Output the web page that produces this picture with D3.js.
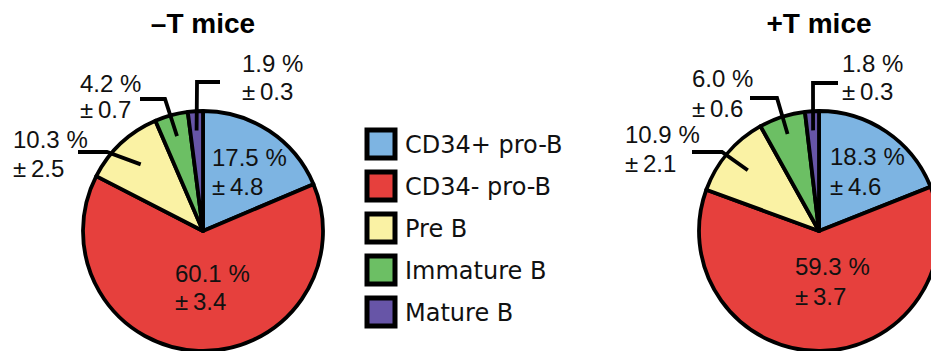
<!DOCTYPE html>
<html>
<head>
<meta charset="utf-8">
<script src="https://cdn.jsdelivr.net/npm/d3@7"></script>
<style>
  body { margin: 0; background: #fff; }
  svg { display: block; }
</style>
</head>
<body>
<div id="chart"></div>
<script>
// data
const categories = ["CD34+ pro-B", "CD34- pro-B", "Pre B", "Immature B", "Mature B"];
const colors = ["#7db4e2", "#e6403d", "#faf2a4", "#6cbf64", "#6755a7"];
const minusTValues = [17.5, 60.1, 10.3, 4.2, 1.9];
const minusTErrors = [4.8, 3.4, 2.5, 0.7, 0.3];
const plusTValues = [18.3, 59.3, 10.9, 6.0, 1.8];
const plusTErrors = [4.6, 3.7, 2.1, 0.6, 0.3];
const titles = ["\u2013T mice", "+T mice"];

const width = 931, height = 351;
const radius = 120;

const svg = d3.select("#chart").append("svg")
    .attr("width", width)
    .attr("height", height);

// label layout per pie (offsets from pie centre)
// inside: [x, y1, y2] ; outside: tip radius factor, elbow, line end, text x, y1, y2
const pies = [
    {
        title: titles[0], values: minusTValues, errors: minusTErrors, cx: 203, cy: 231,
        labels: [
            {inside: true, x: 9, y1: -65, y2: -36},
            {inside: true, x: -28, y1: 51, y2: 79},
            {k: 0.76, elbow: [-96, -79], end: [-125, -79], x: -190, y1: -83, y2: -54},
            {k: 0.82, elbow: [-38, -132], end: [-63, -132], x: -123, y1: -139, y2: -113},
            {k: 0.84, elbow: [-6, -149], end: [17, -149], x: 39, y1: -159, y2: -131}
        ]
    },
    {
        title: titles[1], values: plusTValues, errors: plusTErrors, cx: 819, cy: 231,
        labels: [
            {inside: true, x: 11, y1: -66, y2: -36},
            {inside: true, x: -24, y1: 44, y2: 74},
            {k: 0.78, elbow: [-97, -79], end: [-127, -79], x: -194, y1: -88, y2: -59},
            {k: 0.85, elbow: [-42, -133], end: [-69, -133], x: -127, y1: -144, y2: -114},
            {k: 0.84, elbow: [-6, -148], end: [19, -148], x: 23, y1: -159, y2: -131}
        ]
    }
];

const pie = d3.pie().sort(null).value(d => d);
const arc = d3.arc().innerRadius(0).outerRadius(radius);
const color = d3.scaleOrdinal().domain(categories).range(colors);

pies.forEach(p => {
    let g = svg.append("g").attr("transform", `translate(${p.cx},${p.cy})`);
    let arcs = pie(p.values);

    g.selectAll("path.slice")
        .data(arcs)
        .enter().append("path")
        .attr("class", "slice")
        .attr("d", arc)
        .attr("fill", (d, i) => color(categories[i]))
        .attr("stroke", "#000")
        .attr("stroke-width", 3.8)
        .attr("stroke-linejoin", "round");

    // title
    svg.append("text")
        .attr("x", p.cx)
        .attr("y", 33)
        .attr("text-anchor", "middle")
        .style("font-family", "'Liberation Sans', Arial, sans-serif")
        .style("font-weight", "bold")
        .style("font-size", "28px")
        .text(p.title);

    arcs.forEach((d, i) => {
        let L = p.labels[i];
        if (!L.inside) {
            let mid = (d.startAngle + d.endAngle) / 2;
            let tip = [Math.sin(mid) * radius * L.k, -Math.cos(mid) * radius * L.k];
            g.append("path")
                .attr("d", d3.line()([tip, L.elbow, L.end]))
                .attr("fill", "none")
                .attr("stroke", "#000")
                .attr("stroke-width", 3.8)
                .attr("stroke-linejoin", "miter");
        }
        let t = g.append("text")
            .style("font-family", "'Liberation Sans', Arial, sans-serif")
            .style("font-size", "24px")
            .attr("fill", "#111");
        t.append("tspan").attr("x", L.x).attr("y", L.y1)
            .text(p.values[i].toFixed(1) + " %");
        t.append("tspan").attr("x", L.x).attr("y", L.y2)
            .text("\u00b1\u2009" + p.errors[i].toFixed(1));
    });
});

// legend
const legendY = d3.scalePoint().domain(categories).range([144, 312]);
const legend = svg.selectAll(".legend")
    .data(categories)
    .enter().append("g")
    .attr("class", "legend")
    .attr("transform", d => `translate(0,${legendY(d)})`);

legend.append("rect")
    .attr("x", 367)
    .attr("y", -14)
    .attr("width", 28)
    .attr("height", 28)
    .attr("fill", d => color(d))
    .attr("stroke", "#000")
    .attr("stroke-width", 5);

legend.append("text")
    .attr("x", 405)
    .attr("y", 9)
    .style("font-family", "'DejaVu Sans', Verdana, sans-serif")
    .style("font-size", "24px")
    .attr("fill", "#111")
    .text(d => d);
</script>
</body>
</html>
